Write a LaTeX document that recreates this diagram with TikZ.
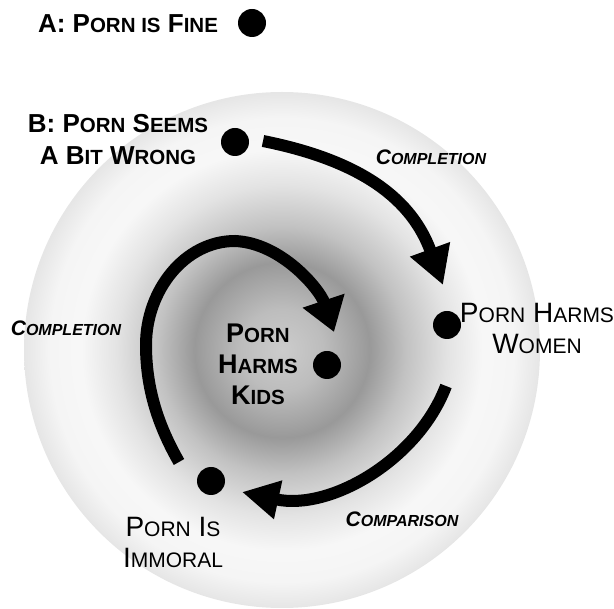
\documentclass[tikz,border=0pt]{standalone}
\usepackage{fontspec}
\setmainfont{Liberation Sans}
\usetikzlibrary{arrows.meta,calc}
\makeatletter
\newcommand\smc[1]{{\fontsize{\smsize}{\f@baselineskip}\selectfont #1}}
\makeatother
\def\smsize{20}
\pgfdeclareradialshading{glow}{\pgfpoint{0bp}{0bp}}{color(0bp)=(black!20); color(4bp)=(black!26); color(8.5bp)=(black!40); color(12bp)=(black!24); color(16bp)=(black!11); color(19.5bp)=(black!3); color(22.5bp)=(black!4); color(25bp)=(black!10); color(50bp)=(black!10)}
\begin{document}
\begin{tikzpicture}[x=1pt,y=-1pt,
  dot/.style={circle,fill=black,minimum size=28pt,inner sep=0pt},
  boldlbl/.style={font=\fontsize{26}{32}\selectfont\bfseries\def\smsize{20.5}, align=center, inner sep=0pt},
  kidslbl/.style={font=\fontsize{27}{31}\selectfont\bfseries\def\smsize{20.5}, align=center, inner sep=0pt},
  plainlbl/.style={font=\fontsize{28}{31}\selectfont\def\smsize{21}, align=center, inner sep=0pt},
  edgelbl/.style={font=\fontsize{21}{24}\selectfont\bfseries\itshape\def\smsize{16}, inner sep=0pt},
  arr/.style={line width=12pt, black}
]
\useasboundingbox (0,0) rectangle (614,609);
\shade[shading=glow] (282,350) circle[radius=258pt];

% dots
\node[dot] (Adot) at (252,23) {};
\node[dot] (Bdot) at (235,142) {};
\node[dot] (Wdot) at (447,325) {};
\node[dot] (Kdot) at (327,365) {};
\node[dot] (Idot) at (211,481) {};

% arrow end points
\coordinate (o1s) at ($(Bdot)+(28,-1)$);
\coordinate (o1e) at ($(Wdot)+(-4,-40)$);
\coordinate (o2s) at ($(Wdot)+(-1,61)$);
\coordinate (o2e) at ($(Idot)+(31,11)$);
\coordinate (i1s) at ($(Idot)+(-32,-19)$);
\coordinate (i1e) at ($(Kdot)+(7,-33)$);

\draw[arr,-{Triangle[length=38pt,width=40pt]}] (o1s) .. controls (363,161) and (412,200) .. (o1e);
\draw[arr,-{Triangle[length=37pt,width=37pt]}] (o2s) .. controls (418,460) and (330,511) .. (o2e);
\draw[arr,-{Triangle[length=33pt,width=42pt]}] (i1s) .. controls (159,427) and (146,390) .. (146,345)
   .. controls (146,290) and (185,241) .. (235,241)
   .. controls (282,243) and (320,290) .. (i1e);

% labels
\node[boldlbl] (Atxt) at (128,24) {A: P\smc{ORN IS} F\smc{INE}};
\node[boldlbl] (Btxt) at (118,140) {B: P\smc{ORN} S\smc{EEMS}\\A B\smc{IT} W\smc{RONG}};
\node[plainlbl] (Wtxt) at (537,328) {P\smc{ORN} H\smc{ARMS}\\W\smc{OMEN}};
\node[kidslbl] (Ktxt) at (258,364) {P\smc{ORN}\\H\smc{ARMS}\\K\smc{IDS}};
\node[plainlbl] (Itxt) at (173,542) {P\smc{ORN} I\smc{S}\\I\smc{MMORAL}};
\node[edgelbl] (c1) at (431,157) {C\smc{OMPLETION}};
\node[edgelbl] (c2) at (66,328) {C\smc{OMPLETION}};
\node[edgelbl] (c3) at (402,519) {C\smc{OMPARISON}};
\end{tikzpicture}
\end{document}
